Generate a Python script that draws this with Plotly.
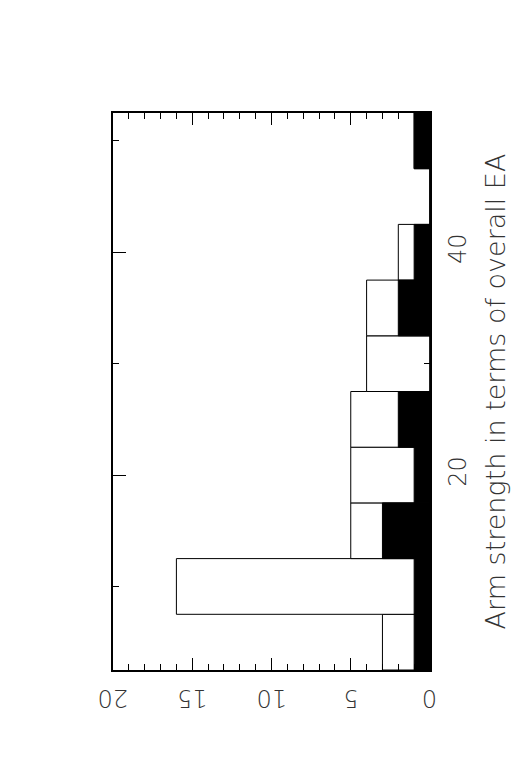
import plotly.graph_objects as go

# histogram bins (centres), arm strength in terms of overall EA
bin_centers = [5, 10, 15, 20, 25, 30, 35, 40, 45, 50]
# all objects (open bars) and subset (filled bars)
counts_all = [3, 16, 5, 5, 5, 4, 4, 2, 0, 1]
counts_sub = [1, 1, 3, 1, 2, 0, 2, 1, 0, 1]

# labelled ticks on the count axis (drawn upside down)
count_ticks = [0, 5, 10, 15, 20]

font_family = 'DejaVu Sans'
tick_font = dict(family=font_family, size=24, color='#333', weight=200)
title_font = dict(family=font_family, size=27, color='#333', weight=200)

fig = go.Figure()

fig.add_trace(go.Bar(
    y=bin_centers,
    x=counts_all,
    orientation='h',
    width=5,
    marker=dict(color='white', line=dict(color='black', width=1)),
    hoverinfo='none',
    name=''
))
fig.add_trace(go.Bar(
    y=bin_centers,
    x=counts_sub,
    orientation='h',
    width=5,
    marker=dict(color='black', line=dict(color='black', width=1)),
    hoverinfo='none',
    name=''
))

# upside-down count labels (rotated about their centre)
for v in count_ticks:
    fig.add_annotation(x=v, xref='x', y=0, yref='paper',
                       text=str(v), showarrow=False, textangle=180,
                       xanchor='center', yanchor='middle', yshift=-28,
                       font=tick_font)

fig.update_layout(
    width=529,
    height=768,
    barmode='overlay',
    showlegend=False,
    plot_bgcolor='white',
    paper_bgcolor='white',
    margin=dict(l=105, r=107, t=105, b=106),
    font=tick_font
)

fig.update_xaxes(
    range=[20, 0],
    tick0=0, dtick=5,
    ticks='inside', ticklen=12, tickwidth=1, tickcolor='black',
    minor=dict(dtick=1, ticks='inside', ticklen=6, tickwidth=1, tickcolor='black'),
    showticklabels=False,
    showline=True, linecolor='black', linewidth=1.5, mirror='ticks',
    showgrid=False, zeroline=False, automargin=False
)

fig.update_yaxes(
    range=[2.5, 52.5],
    side='right',
    tick0=0, dtick=20,
    ticks='inside', ticklen=13, tickwidth=1, tickcolor='black',
    minor=dict(dtick=10, ticks='inside', ticklen=6, tickwidth=1, tickcolor='black'),
    tickangle=-90,
    tickfont=tick_font,
    ticklabelstandoff=5,
    showline=True, linecolor='black', linewidth=1.5, mirror='ticks',
    showgrid=False, zeroline=False, automargin=False,
    title=dict(text='Arm strength in terms of overall EA', standoff=16, font=title_font)
)

fig.write_html("out.html")
